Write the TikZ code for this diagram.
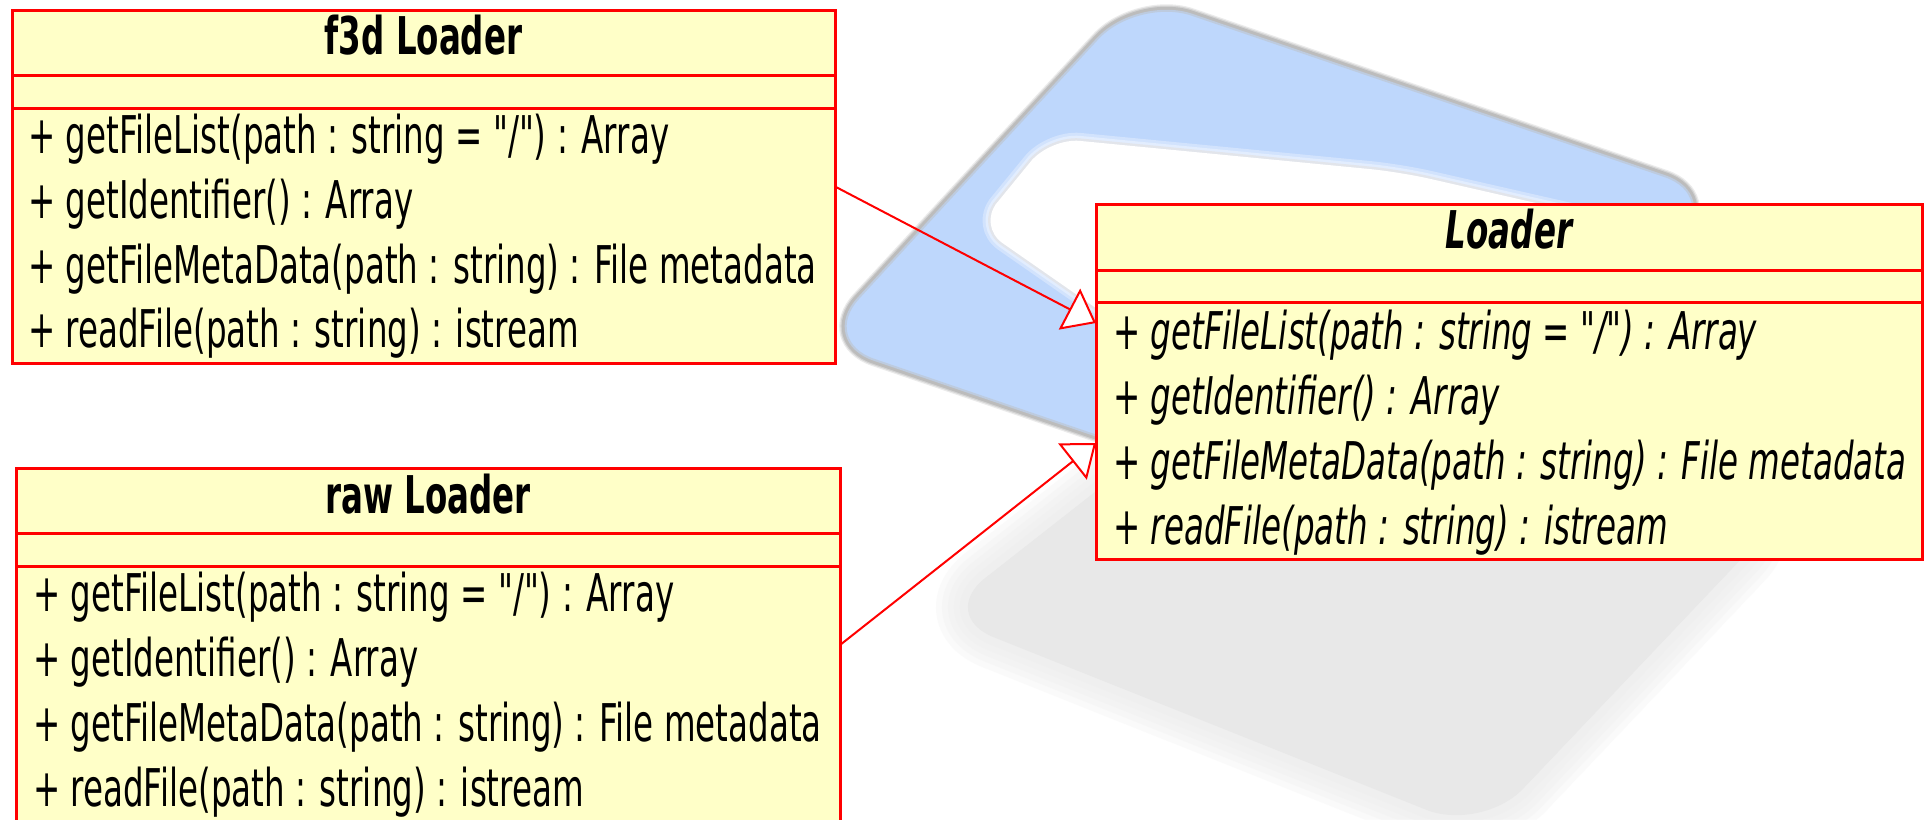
\documentclass[tikz,border=0pt]{standalone}
\usepackage{fontspec}
\setmainfont{DejaVu Sans}[Ligatures=TeXOff,ItalicFont={DejaVu Sans Oblique},BoldFont={DejaVu Sans Bold},BoldItalicFont={DejaVu Sans Bold Oblique}]
\usepackage{graphicx}
\usetikzlibrary{arrows.meta}

\definecolor{umlred}{RGB}{255,0,0}
\definecolor{umlfill}{RGB}{255,255,200}
\definecolor{logoblue}{RGB}{190,215,252}
\definecolor{logorim}{RGB}{188,188,188}
\definecolor{logoshade}{RGB}{232,232,232}
\definecolor{holeedge}{RGB}{226,229,235}

% condensed member text
\newcommand\condtxt[1]{\scalebox{0.625}[1]{#1}}
\newcommand\umlsize{\fontsize{52pt}{60pt}\selectfont}

% outlines of the watermark logo behind the classes
\def\shadowpath{(1123,470) -- (1309,325) -- (1783,515) -- (1482,832) -- (938,615) -- cycle}
\def\framepath{(978,168) -- (1137,-4) -- (1720,195) -- (1402,540) -- (819,341) -- cycle}
\def\holepath{(1014,182) -- (1050,138) -- (1400,172) -- (1720,245) -- (1300,450) -- (978,226) -- cycle}

\begin{document}
\begin{tikzpicture}[x=1pt,y=-1pt,
  classbox/.style={draw=umlred, fill=umlfill, line width=3pt, rectangle, inner sep=0pt, outer sep=0pt, anchor=north west},
  classrule/.style={draw=umlred, line width=3pt},
  member/.style={anchor=base west, inner sep=0pt, font=\umlsize, text=black},
  classname/.style={anchor=base, inner sep=0pt, font=\umlsize\bfseries, text=black},
  inherit/.style={draw=umlred, line width=2pt, line join=miter, -{Triangle[length=30pt,width=46pt,fill=white]}},
]
\useasboundingbox (0,0) rectangle (1924,819);
\fill[white] (0,0) rectangle (1924,819);

% soft grey shadow of the logo
\foreach \w in {64,52,40,28,16}{
  \draw[logoshade, line width=\w pt, opacity=0.18, rounded corners=60pt, line join=round] \shadowpath;
}
\fill[logoshade, rounded corners=60pt] \shadowpath;

% blue logo frame with grey rim
\draw[logorim!30!white, line width=13pt, rounded corners=58pt] \framepath;
\draw[logorim!65!white, line width=10.5pt, rounded corners=58pt] \framepath;
\draw[logorim, line width=8pt, rounded corners=58pt] \framepath;
\fill[logoblue, rounded corners=58pt] \framepath;
\draw[logorim!45!logoblue, line width=2pt, rounded corners=58pt] \framepath;

% white opening of the frame, soft edged
\draw[logoblue!70!white, line width=16pt, rounded corners=30pt] \holepath;
\draw[logoblue!45!white, line width=10pt, rounded corners=30pt] \holepath;
\draw[holeedge, line width=5pt, rounded corners=30pt] \holepath;
\fill[white, rounded corners=30pt] \holepath;

% class f3d Loader
\node[classbox, minimum width=823pt, minimum height=353pt] (f3d) at (12,10) {};
\draw[classrule] (f3d.west |- 0,75) -- (f3d.east |- 0,75);
\draw[classrule] (f3d.west |- 0,108) -- (f3d.east |- 0,108);
\node[classname] (f3d-name) at (423.5,54) {\condtxt{f3d Loader}};
\node[member] (f3d-op1) at (28,153) {\condtxt{+ getFileList(path : string = "/") : Array}};
\node[member] (f3d-op2) at (28,218) {\condtxt{+ getIdentifier() : Array}};
\node[member] (f3d-op3) at (28,283) {\condtxt{+ getFileMetaData(path : string) : File metadata}};
\node[member] (f3d-op4) at (28,347) {\condtxt{+ readFile(path : string) : istream}};

% class raw Loader
\node[classbox, minimum width=824pt, minimum height=354pt] (raw) at (16,468) {};
\draw[classrule] (raw.west |- 0,533.5) -- (raw.east |- 0,533.5);
\draw[classrule] (raw.west |- 0,566) -- (raw.east |- 0,566);
\node[classname] (raw-name) at (428,513) {\condtxt{raw Loader}};
\node[member] (raw-op1) at (33,611) {\condtxt{+ getFileList(path : string = "/") : Array}};
\node[member] (raw-op2) at (33,676) {\condtxt{+ getIdentifier() : Array}};
\node[member] (raw-op3) at (33,741) {\condtxt{+ getFileMetaData(path : string) : File metadata}};
\node[member] (raw-op4) at (33,806) {\condtxt{+ readFile(path : string) : istream}};

% abstract class Loader
\node[classbox, minimum width=826pt, minimum height=355pt] (loader) at (1096,204) {};
\draw[classrule] (loader.west |- 0,270) -- (loader.east |- 0,270);
\draw[classrule] (loader.west |- 0,302) -- (loader.east |- 0,302);
\node[classname] (loader-name) at (1509,248) {\condtxt{\itshape Loader}};
\node[member] (loader-op1) at (1113,349) {\condtxt{\itshape + getFileList(path : string = "/") : Array}};
\node[member] (loader-op2) at (1113,414) {\condtxt{\itshape + getIdentifier() : Array}};
\node[member] (loader-op3) at (1113,479) {\condtxt{\itshape + getFileMetaData(path : string) : File metadata}};
\node[member] (loader-op4) at (1113,544) {\condtxt{\itshape + readFile(path : string) : istream}};

% generalisation arrows
\draw[inherit] (f3d.east) -- ([yshift=58.5pt]loader.west);
\draw[inherit] (raw.east) -- ([yshift=-61.5pt]loader.west);
\end{tikzpicture}
\end{document}
